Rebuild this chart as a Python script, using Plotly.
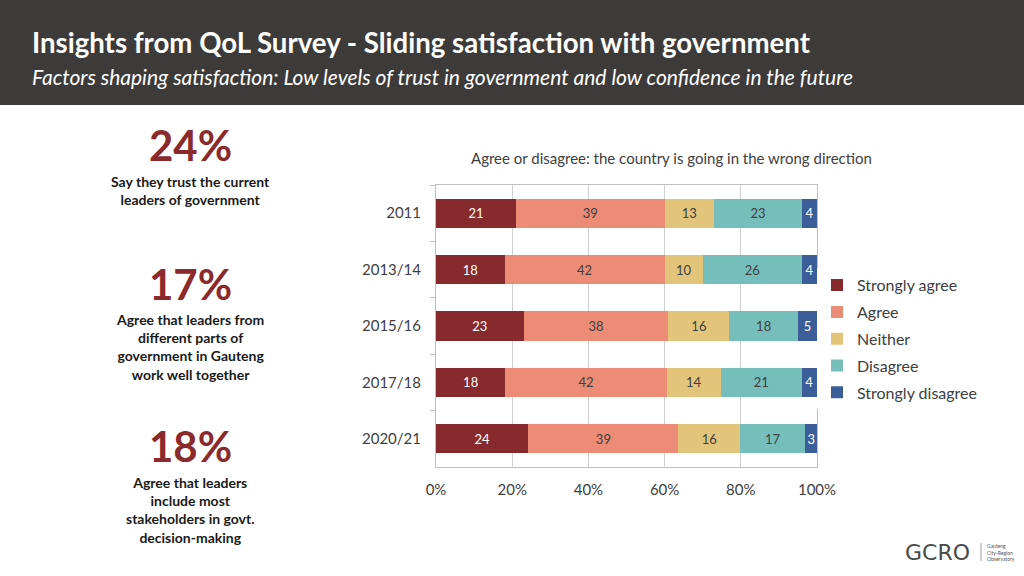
import plotly.graph_objects as go

years = ["2011", "2013/14", "2015/16", "2017/18", "2020/21"]
series_names = ["Strongly agree", "Agree", "Neither", "Disagree", "Strongly disagree"]
strongly_agree = [21, 18, 23, 18, 24]
agree = [39, 42, 38, 42, 39]
neither = [13, 10, 16, 14, 16]
disagree = [23, 26, 18, 21, 17]
strongly_disagree = [4, 4, 5, 4, 3]
x_ticks = [0, 20, 40, 60, 80, 100]
x_tick_labels = ["0%", "20%", "40%", "60%", "80%", "100%"]

kpi_values = ["24%", "17%", "18%"]
kpi_texts = [
    "Say they trust the current<br>leaders of government",
    "Agree that leaders from<br>different parts of<br>government in Gauteng<br>work well together",
    "Agree that leaders<br>include most<br>stakeholders in govt.<br>decision-making",
]

colors = ["#872A2D", "#EC8B76", "#E2C57A", "#76BEBC", "#3B5E98"]
text_colors = ["white", "#404040", "#404040", "#404040", "white"]
values = [strongly_agree, agree, neither, disagree, strongly_disagree]

# 100% stacked: normalise each year's row to its total
totals = [sum(v[i] for v in values) for i in range(len(years))]

FONT = "Lato"

fig = go.Figure()
for name, vals, c, tc in zip(series_names, values, colors, text_colors):
    shares = [v / t * 100 for v, t in zip(vals, totals)]
    fig.add_trace(go.Bar(
        y=years, x=shares, name=name, orientation="h", legendgroup=name,
        marker=dict(color=c, line=dict(width=0)),
        text=vals, texttemplate="%{text}", textposition="inside",
        insidetextanchor="middle", constraintext="none",
        textfont=dict(color=tc, size=13, family=FONT),
        hoverinfo="skip",
    ))

fig.update_layout(
    width=1024, height=576,
    barmode="stack", bargap=0.48,
    paper_bgcolor="white", plot_bgcolor="white",
    margin=dict(l=436, r=207, t=185, b=109),
    legend=dict(
        x=1.0, y=0.705, xanchor="left", yanchor="top",
        font=dict(size=16, color="#404040", family=FONT),
        itemwidth=30, tracegroupgap=3, traceorder="grouped",
    ),
    xaxis=dict(
        range=[0, 100], tickvals=x_ticks, ticktext=x_tick_labels,
        showgrid=True, gridcolor="#D0D0D0", gridwidth=1,
        zeroline=False, showline=True, linecolor="#BFBFBF", mirror=True,
        tickfont=dict(size=15, color="#404040", family=FONT),
        ticks="", ticklabelstandoff=9,
    ),
    yaxis=dict(
        autorange="reversed", showline=True, linecolor="#BFBFBF", mirror=True,
        ticks="outside", tickson="boundaries", ticklen=5, tickcolor="#BFBFBF",
        tickfont=dict(size=15, color="#404040", family=FONT),
        ticklabelstandoff=11,
    ),
)

def px_x(x):
    return (x - 436) / 381

def px_y(y):
    return (467 - y) / 282

# header band
fig.add_shape(type="rect", xref="paper", yref="paper", x0=px_x(-20), x1=px_x(1044),
              y0=px_y(105), y1=px_y(-20), fillcolor="#3D3B3A", line=dict(width=0), layer="above")

fig.add_annotation(text="<b>Insights from QoL Survey - Sliding satisfaction with government</b>",
                   xref="paper", yref="paper", x=px_x(30), y=px_y(42), xanchor="left", yanchor="middle",
                   showarrow=False, font=dict(size=27.6, color="white", family=FONT))
fig.add_annotation(text="<i>Factors shaping satisfaction: Low levels of trust in government and low confidence in the future</i>",
                   xref="paper", yref="paper", x=px_x(30), y=px_y(77), xanchor="left", yanchor="middle",
                   showarrow=False, font=dict(size=21, color="white", family=FONT))

fig.add_annotation(text="Agree or disagree: the country is going in the wrong direction",
                   xref="paper", yref="paper", x=px_x(671), y=px_y(158), xanchor="center", yanchor="middle",
                   showarrow=False, font=dict(size=15, color="#404040", family=FONT))

kpi_y = [145, 284, 446]
text_y = [181, 319, 482]
for v, t, ky, ty in zip(kpi_values, kpi_texts, kpi_y, text_y):
    fig.add_annotation(text=f"<b>{v}</b>", xref="paper", yref="paper", x=px_x(190), y=px_y(ky),
                       xanchor="center", yanchor="middle", showarrow=False,
                       font=dict(size=42, color="#8B2A2D", family=FONT))
    fig.add_annotation(text=f"<b>{t}</b>", xref="paper", yref="paper", x=px_x(190), y=px_y(ty - 10),
                       xanchor="center", yanchor="top", showarrow=False, align="center",
                       font=dict(size=14, color="#1A1A1A", family=FONT))

fig.add_annotation(text="GCRO", xref="paper", yref="paper", x=px_x(937), y=px_y(552),
                   xanchor="center", yanchor="middle", showarrow=False,
                   font=dict(size=22, color="#4A4A4A", family="DejaVu Sans"))
fig.add_shape(type="line", xref="paper", yref="paper", x0=px_x(981), x1=px_x(981),
              y0=px_y(543), y1=px_y(561), line=dict(color="#999999", width=1))
fig.add_annotation(text="Gauteng<br>City-Region<br>Observatory", xref="paper", yref="paper",
                   x=px_x(985), y=px_y(552), xanchor="left", yanchor="middle", showarrow=False,
                   align="left", font=dict(size=5, color="#555555", family=FONT))

fig.write_html("out.html", config={"displayModeBar": False},
               post_script="document.body.style.margin='0';")
